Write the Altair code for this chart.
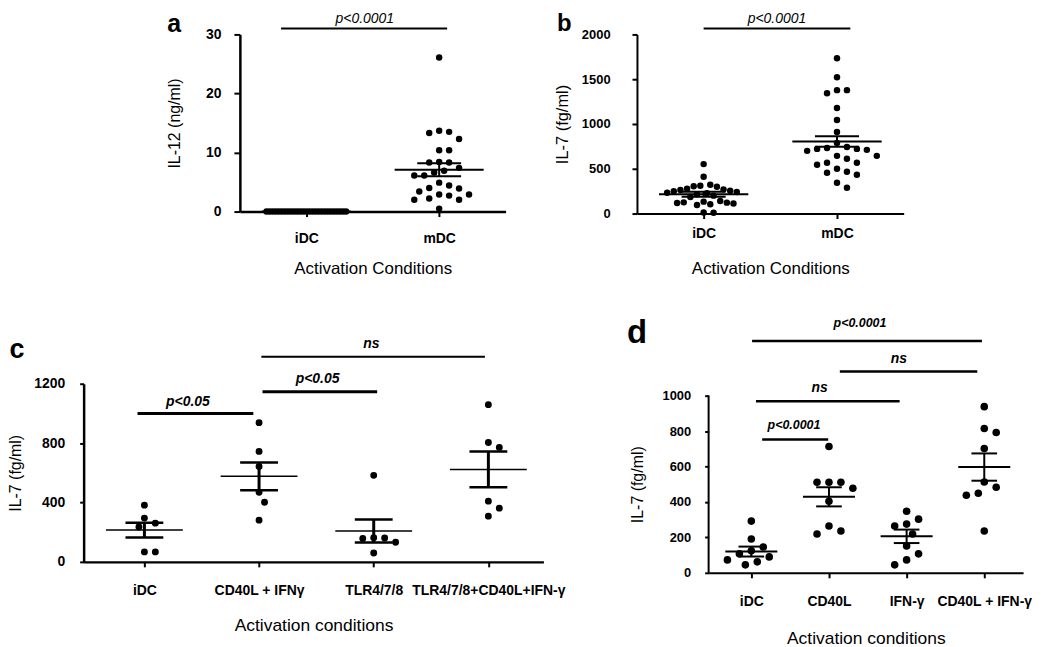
import altair as alt
import pandas as pd

# ---------------- values ----------------
# Panel a : IL-12 (ng/ml)
A_CATEGORIES = ["iDC", "mDC"]
A_IDC = [0.0] * 27
A_MDC = [26.1, 13.7, 13.5, 13.3, 12.3, 10.4, 10.4, 8.4, 8.3, 8.3, 7.4, 6.9, 6.6, 6.1, 6.1,
         4.9, 4.4, 4.0, 3.9, 3.4, 2.9, 2.9, 2.7, 2.2, 2.0, 2.0, 0.5]
A_MEAN = [0.0, 7.1]
A_SEM = [0.0, 1.1]
A_BRACKET_FROM = [0.81]
A_BRACKET_TO = [2.06]
A_BRACKET_AT = [31.0]
A_PTEXT = ["p<0.0001"]
A_PTEXT_X = [1.44]
A_PTEXT_Y = [32.6]

# Panel b : IL-7 (fg/ml)
B_CATEGORIES = ["iDC", "mDC"]
B_IDC = [552, 411, 322, 311, 305, 300, 278, 270, 262, 255, 248, 240, 233, 226, 215, 200,
         185, 140, 133, 125, 122, 118, 112, 105, 95, 12, 8]
B_MDC = [1733, 1522, 1378, 1378, 1344, 1178, 1044, 911, 789, 744, 733, 722, 722, 711, 700,
         644, 644, 611, 567, 567, 544, 500, 467, 456, 433, 344, 289]
B_MEAN = [215, 805]
B_SEM = [28, 58]
B_BRACKET_FROM = [1.0]
B_BRACKET_TO = [2.10]
B_BRACKET_AT = [2067]
B_PTEXT = ["p<0.0001"]
B_PTEXT_X = [1.55]
B_PTEXT_Y = [2172]

# Panel c : IL-7 (fg/ml)
C_CATEGORIES = ["iDC", "CD40L + IFNγ", "TLR4/7/8", "TLR4/7/8+CD40L+IFN-γ"]
C_IDC = [382, 295, 261, 235, 67, 67]
C_CD40L_IFN = [938, 744, 643, 469, 402, 281]
C_TLR = [583, 162, 161, 158, 132, 60]
C_TLR_CD40L_IFN = [1059, 804, 771, 409, 362, 308]
C_MEAN = [214, 576, 208, 623]
C_SEM = [50, 94, 77, 120]
C_BRACKET_FROM = [0.94, 2.03, 2.02]
C_BRACKET_TO = [1.95, 3.03, 3.97]
C_BRACKET_AT = [999, 1146, 1381]
C_PTEXT = ["p<0.05", "p<0.05", "ns"]
C_PTEXT_X = [1.38, 2.51, 2.98]
C_PTEXT_Y = [1079, 1233, 1468]

# Panel d : IL-7 (fg/ml)
D_CATEGORIES = ["iDC", "CD40L", "IFN-γ", "CD40L + IFN-γ"]
D_IDC = [292, 191, 146, 124, 107, 90, 73, 62, 45]
D_CD40L = [713, 511, 511, 511, 477, 404, 264, 236, 219]
D_IFN = [348, 303, 275, 264, 219, 152, 107, 73, 45]
D_CD40L_IFN = [938, 815, 792, 702, 513, 483, 449, 438, 236]
D_MEAN = [120, 429, 206, 597]
D_SEM = [28, 54, 38, 77]
D_BRACKET_FROM = [1.14, 1.06, 2.14, 1.01]
D_BRACKET_TO = [1.99, 2.91, 3.91, 3.97]
D_BRACKET_AT = [753, 968, 1137, 1309]
D_PTEXT = ["p<0.0001", "ns", "ns", "p<0.0001"]
D_PTEXT_X = [1.55, 1.88, 2.90, 2.40]
D_PTEXT_Y = [837, 1045, 1208, 1410]

# ---------------- styles ----------------
FONT = "Liberation Sans"

STYLE_A = dict(letter="a", width=267, height=178, xdom=[0.5, 2.5], ydom=[0, 30], yticks=[0, 10, 20, 30],
               ytitle="IL-12 (ng/ml)", ytitle_x=-66, ytitle_fs=16, ylabel_fs=14, ylabel_pad=13, ytick=6,
               xtitle="Activation Conditions", xtitle_y=57, xtitle_fs=17, xlabel_fs=14, xlabel_pad=22,
               dom_w=2.5, tick_w=2, size=42, gap=9.5, step=5, maxw=80,
               mean_w=2, sem_w=2, vert_w=2, br_w=2, br_w_ns=2, p_fs=14, p_weight="normal", ns_fs=14,
               letter_x=-66, letter_y=-2, letter_fs=25, anchor=(-75, -25, 270, 250))
STYLE_B = dict(letter="b", width=268, height=180, xdom=[0.5, 2.5], ydom=[0, 2000], yticks=[0, 500, 1000, 1500, 2000],
               ytitle="IL-7 (fg/ml)", ytitle_x=-75, ytitle_fs=16.5, ylabel_fs=13, ylabel_pad=22, ytick=5,
               xtitle="Activation Conditions", xtitle_y=55, xtitle_fs=17, xlabel_fs=14, xlabel_pad=15,
               dom_w=2, tick_w=2, size=42, gap=9.5, step=5, maxw=70,
               mean_w=2, sem_w=2, vert_w=2, br_w=2, br_w_ns=2, p_fs=14, p_weight="normal", ns_fs=14,
               letter_x=-73, letter_y=-3, letter_fs=24, anchor=(-84, -25, 270, 250))
STYLE_C = dict(letter="c", width=462, height=179, xdom=[0.47, 4.48], ydom=[0, 1200], yticks=[0, 400, 800, 1200],
               ytitle="IL-7 (fg/ml)", ytitle_x=-68, ytitle_fs=16, ylabel_fs=14, ylabel_pad=15, ytick=4,
               xtitle="Activation conditions", xtitle_y=64, xtitle_fs=17.5, xlabel_fs=14, xlabel_pad=24,
               dom_w=2.5, tick_w=2, size=48, gap=10.5, step=5.5, maxw=80, last_label_pad=8,
               mean_w=1.5, sem_w=2.5, vert_w=3, br_w=3, br_w_ns=2, p_fs=14, p_weight="bold", ns_fs=14,
               letter_x=-67, letter_y=-26, letter_fs=27, anchor=(-76, -69, 512, 260))
# panel d: its plot area starts 12 px above the top of its y axis (the axis line is drawn as a rule)
STYLE_D = dict(letter="d", width=316, height=190, xdom=[0.45, 4.5], ydom=[0, 1000 * 190 / 178],
               yaxis_top=1000, yticks=[0, 200, 400, 600, 800, 1000],
               ytitle="IL-7 (fg/ml)", ytitle_x=-71, ytitle_y=12 + 89, ytitle_fs=16, ylabel_fs=13, ylabel_pad=14,
               ytick=4,
               xtitle="Activation conditions", xtitle_y=66, xtitle_fs=17.5, xlabel_fs=14, xlabel_pad=24,
               dom_w=2, tick_w=2, size=58, gap=11.5, step=6, maxw=70,
               mean_w=2, sem_w=2, vert_w=2, br_w=2.5, br_w_ns=2.5, p_fs=12.5, p_weight="bold", ns_fs=14,
               letter_x=-72, letter_y=-41, letter_fs=33, anchor=(-84, -69, 335, 260))

MEAN_HALF = 0.335   # half length of the mean line, in category units
SEM_HALF = 0.165    # half length of the SEM caps


def swarm_offsets(values, st):
    """Column-scatter layout: spread points sideways so they do not collide."""
    py = st["height"] / (st["ydom"][1] - st["ydom"][0])
    px = st["width"] / (st["xdom"][1] - st["xdom"][0])
    gap, step = st["gap"], st["step"]
    order = sorted(range(len(values)), key=lambda i: -values[i])
    placed = []
    off = [0.0] * len(values)
    for i in order:
        ypx = values[i] * py
        k = 0
        chosen = None
        while chosen is None:
            cands = [0.0] if k == 0 else [k * step, -k * step]
            for c in cands:
                if all((c - x0) ** 2 + (ypx - y0) ** 2 >= gap * gap for x0, y0 in placed):
                    chosen = c
                    break
            k += 1
        placed.append((chosen, ypx))
        off[i] = chosen
    width = max(off) - min(off)
    if width > st["maxw"]:
        f = st["maxw"] / width
        off = [o * f for o in off]
    return [o / px for o in off]


def x_axis(cats, st):
    labels = list(cats)
    if st.get("last_label_pad"):
        labels[-1] = "\u00a0" * st["last_label_pad"] + labels[-1]
    expr = "[" + ",".join(["''"] + ["'" + c + "'" for c in labels]) + "][datum.value]"
    return alt.Axis(values=list(range(1, len(cats) + 1)), labelExpr=expr, title=st["xtitle"],
                    titleX=st["width"] / 2, titleY=st["xtitle_y"], titleAlign="center", titleBaseline="middle",
                    titleFontSize=st["xtitle_fs"], titleFontWeight="normal", titleFont=FONT, titleColor="black",
                    labelFont=FONT, labelFontSize=st["xlabel_fs"], labelFontWeight="bold", labelColor="black",
                    labelBaseline="middle", labelPadding=st["xlabel_pad"], labelFlush=False, labelOverlap=False,
                    tickSize=5, tickWidth=st["tick_w"], domainWidth=st["dom_w"], domainColor="black",
                    tickColor="black", grid=False)


def y_axis(st):
    return alt.Axis(values=st["yticks"], format="d", title=st["ytitle"], titleX=st["ytitle_x"],
                    titleY=st.get("ytitle_y", st["height"] / 2), titleAngle=270, titleAlign="center",
                    titleBaseline="middle",
                    titleFontSize=st["ytitle_fs"], titleFontWeight="normal", titleFont=FONT, titleColor="black",
                    labelFont=FONT, labelFontSize=st["ylabel_fs"], labelFontWeight="bold", labelColor="black",
                    labelPadding=st["ylabel_pad"], tickSize=st["ytick"], tickWidth=st["tick_w"],
                    domain=("yaxis_top" not in st), domainWidth=st["dom_w"], domainColor="black",
                    tickColor="black", grid=False, labelOverlap=False)


def panel(cats, groups, means, sems, br_from, br_to, br_at, ptext, ptext_x, ptext_y, st):
    xs = alt.Scale(domain=st["xdom"], nice=False, zero=False)
    ys = alt.Scale(domain=st["ydom"], nice=False, zero=False)
    xa = x_axis(cats, st)
    ya = y_axis(st)

    pts = []
    for gi, vals in enumerate(groups):
        for v, o in zip(vals, swarm_offsets(vals, st)):
            pts.append({"px": gi + 1 + o, "py": v})
    pts = pd.DataFrame(pts)

    stats = pd.DataFrame({"c": list(range(1, len(cats) + 1)), "mean": means, "sem": sems})
    stats["m1"] = stats["c"] - MEAN_HALF
    stats["m2"] = stats["c"] + MEAN_HALF
    stats["s1"] = stats["c"] - SEM_HALF
    stats["s2"] = stats["c"] + SEM_HALF
    stats["lo"] = stats["mean"] - stats["sem"]
    stats["hi"] = stats["mean"] + stats["sem"]
    caps = pd.concat([stats.assign(cap=stats["lo"]), stats.assign(cap=stats["hi"])])
    caps = caps[caps["sem"] > 0]

    br = pd.DataFrame({"b1": br_from, "b2": br_to, "by": br_at, "label": ptext})
    pt = pd.DataFrame({"tx": ptext_x, "ty": ptext_y, "label": ptext})
    one = pd.DataFrame({"k": [0]})

    L, T, R, B = st["anchor"]
    layers = []
    layers.append(alt.Chart(one).mark_rule(opacity=0, strokeWidth=0).encode(
        x=alt.value(L), x2=alt.value(R), y=alt.value(T), y2=alt.value(B)))

    if "yaxis_top" in st:
        ax = pd.DataFrame({"ax": [st["xdom"][0]], "a0": [0], "a1": [st["yaxis_top"]]})
        layers.append(alt.Chart(ax).mark_rule(color="black", strokeWidth=st["dom_w"]).encode(
            x=alt.X("ax:Q", scale=xs, axis=xa), y=alt.Y("a0:Q", scale=ys, axis=ya), y2="a1:Q"))

    layers.append(alt.Chart(pts).mark_circle(color="black", opacity=1, size=st["size"]).encode(
        x=alt.X("px:Q", scale=xs, axis=xa), y=alt.Y("py:Q", scale=ys, axis=ya)))

    layers.append(alt.Chart(stats).mark_rule(color="black", strokeWidth=st["mean_w"]).encode(
        x=alt.X("m1:Q", scale=xs, axis=xa), x2="m2:Q", y=alt.Y("mean:Q", scale=ys, axis=ya)))

    layers.append(alt.Chart(caps).mark_rule(color="black", strokeWidth=st["sem_w"]).encode(
        x=alt.X("s1:Q", scale=xs, axis=xa), x2="s2:Q", y=alt.Y("cap:Q", scale=ys, axis=ya)))

    layers.append(alt.Chart(stats[stats["sem"] > 0]).mark_rule(color="black", strokeWidth=st["vert_w"]).encode(
        x=alt.X("c:Q", scale=xs, axis=xa), y=alt.Y("lo:Q", scale=ys, axis=ya), y2="hi:Q"))

    layers.append(alt.Chart(br).mark_rule(color="black").encode(
        x=alt.X("b1:Q", scale=xs, axis=xa), x2="b2:Q", y=alt.Y("by:Q", scale=ys, axis=ya),
        strokeWidth=alt.condition(alt.datum.label == "ns", alt.value(st["br_w_ns"]), alt.value(st["br_w"]))))

    layers.append(alt.Chart(pt).mark_text(font=FONT, fontStyle="italic", fontWeight=st["p_weight"],
                                          align="center", baseline="middle", color="black").encode(
        x=alt.X("tx:Q", scale=xs, axis=xa), y=alt.Y("ty:Q", scale=ys, axis=ya), text="label:N",
        size=alt.condition(alt.datum.label == "ns", alt.value(st["ns_fs"]), alt.value(st["p_fs"]))))

    layers.append(alt.Chart(one).mark_text(font=FONT, fontWeight="bold", fontSize=st["letter_fs"],
                                           align="center", baseline="alphabetic", color="black",
                                           text=st["letter"]).encode(
        x=alt.value(st["letter_x"]), y=alt.value(st["letter_y"])))

    return alt.layer(*layers).properties(width=st["width"], height=st["height"])


pa = panel(A_CATEGORIES, [A_IDC, A_MDC], A_MEAN, A_SEM, A_BRACKET_FROM, A_BRACKET_TO, A_BRACKET_AT,
           A_PTEXT, A_PTEXT_X, A_PTEXT_Y, STYLE_A)
pb = panel(B_CATEGORIES, [B_IDC, B_MDC], B_MEAN, B_SEM, B_BRACKET_FROM, B_BRACKET_TO, B_BRACKET_AT,
           B_PTEXT, B_PTEXT_X, B_PTEXT_Y, STYLE_B)
pc = panel(C_CATEGORIES, [C_IDC, C_CD40L_IFN, C_TLR, C_TLR_CD40L_IFN], C_MEAN, C_SEM,
           C_BRACKET_FROM, C_BRACKET_TO, C_BRACKET_AT, C_PTEXT, C_PTEXT_X, C_PTEXT_Y, STYLE_C)
pd_ = panel(D_CATEGORIES, [D_IDC, D_CD40L, D_IFN, D_CD40L_IFN], D_MEAN, D_SEM,
            D_BRACKET_FROM, D_BRACKET_TO, D_BRACKET_AT, D_PTEXT, D_PTEXT_X, D_PTEXT_Y, STYLE_D)

SPACER_W = 37
spacer = alt.Chart(pd.DataFrame({"k": [0]})).mark_rule(opacity=0, strokeWidth=0).encode(
    x=alt.value(0), x2=alt.value(SPACER_W), y=alt.value(0), y2=alt.value(0)).properties(
    width=SPACER_W, height=10)

top = alt.hconcat(spacer, pa, pb, spacing=45)
bottom = alt.hconcat(pc, pd_, spacing=32)

chart = alt.vconcat(top, bottom, spacing=32).properties(
    padding={"left": 0, "top": 0, "right": 0, "bottom": 0}, background="white"
).configure_view(stroke=None)

chart.save("out.html", embed_options={"renderer": "svg", "actions": False})
